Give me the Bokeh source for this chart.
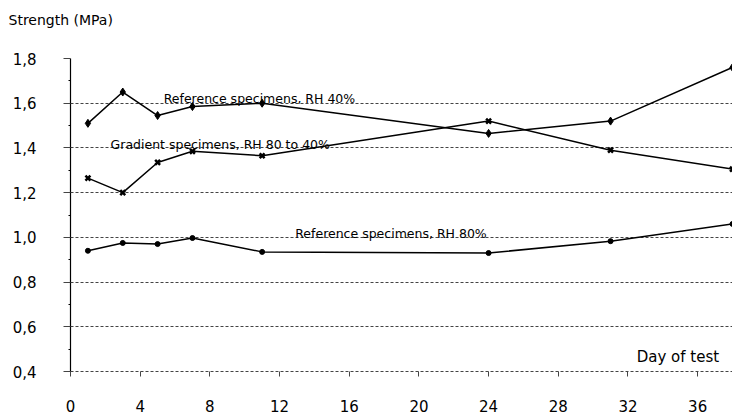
from bokeh.plotting import figure
from bokeh.models import Range1d, FixedTicker, CustomJSTickFormatter, Label, Title
from bokeh.embed import file_html
from bokeh.resources import INLINE

# Test days
days = [1, 3, 5, 7, 11, 24, 31, 38]

# Strength (MPa) per series
ref_rh40 = [1.51, 1.65, 1.545, 1.585, 1.60, 1.465, 1.52, 1.76]
gradient_80_40 = [1.265, 1.20, 1.335, 1.385, 1.365, 1.52, 1.39, 1.305]
ref_rh80 = [0.94, 0.975, 0.97, 0.997, 0.935, 0.93, 0.983, 1.06]

x_ticks = [0, 4, 8, 12, 16, 20, 24, 28, 32, 36]
y_ticks = [0.4, 0.6, 0.8, 1.0, 1.2, 1.4, 1.6, 1.8]
y_minor = [0.5, 0.7, 0.9, 1.1, 1.3, 1.5, 1.7]

FONT = "DejaVu Sans"

p = figure(width=732, height=419, output_backend="svg", toolbar_location=None,
           x_range=Range1d(0, 38), y_range=Range1d(0.4, 1.8),
           min_border_left=70, min_border_right=0, min_border_top=58,
           min_border_bottom=48)
p.outline_line_color = None
p.background_fill_color = "white"
p.border_fill_color = "white"

# Blank band just above the frame, then the y axis title above it
p.add_layout(Title(text=" ", text_font=FONT, text_font_size="14px", standoff=13), "above")
p.add_layout(Title(text="Strength (MPa)", align="left", offset=-62, standoff=0,
                   text_font=FONT, text_font_size="14px", text_font_style="normal",
                   text_color="black"), "above")

# Grid: dashed horizontal lines only
p.xgrid.grid_line_color = None
p.ygrid.grid_line_color = "#444444"
p.ygrid.grid_line_dash = "3 2"
p.ygrid.grid_line_width = 1

# Y axis
p.yaxis.ticker = FixedTicker(ticks=y_ticks, minor_ticks=y_minor)
p.yaxis.formatter = CustomJSTickFormatter(code="return tick.toFixed(1).replace('.', ',');")
p.yaxis.axis_line_color = "black"
p.yaxis.axis_line_width = 1.2
p.yaxis.major_tick_out = 7
p.yaxis.major_tick_in = 0
p.yaxis.major_tick_line_color = "#444444"
p.yaxis.minor_tick_out = 2
p.yaxis.minor_tick_in = 0
p.yaxis.major_label_standoff = 27
p.yaxis.major_label_text_font = FONT
p.yaxis.major_label_text_font_size = "15px"
p.yaxis.major_label_text_color = "black"

# X axis: dashed base line like the grid
p.xaxis.ticker = FixedTicker(ticks=x_ticks, minor_ticks=[])
p.xaxis.axis_line_color = "#444444"
p.xaxis.axis_line_dash = "3 2"
p.xaxis.axis_line_width = 1
p.xaxis.major_tick_out = 5
p.xaxis.major_tick_in = 0
p.xaxis.major_tick_line_color = "#444444"
p.xaxis.major_label_standoff = 23
p.xaxis.major_label_text_font = FONT
p.xaxis.major_label_text_font_size = "15px"
p.xaxis.major_label_text_color = "black"

# Series
p.line(days, ref_rh40, line_color="black", line_width=1.5)
p.scatter(days, ref_rh40, marker="diamond", size=8, color="black")

p.line(days, gradient_80_40, line_color="black", line_width=1.5)
p.scatter(days, gradient_80_40, marker="x", size=7, line_color="black", line_width=2.5)

p.line(days, ref_rh80, line_color="black", line_width=1.5)
p.scatter(days, ref_rh80, marker="circle", size=5, color="black")

# Series labels
def note(x, y, txt, size="12.5px"):
    p.add_layout(Label(x=x, y=y, text=txt, text_font=FONT, text_font_size=size,
                       text_color="black", text_baseline="alphabetic", text_align="left"))

note(5.35, 1.622, "Reference specimens, RH 40%")
note(2.3, 1.417, "Gradient specimens, RH 80 to 40%")
note(12.9, 1.018, "Reference specimens, RH 80%")
note(32.5, 0.467, "Day of test", "15px")

open("out.html", "w").write(file_html(p, INLINE))
